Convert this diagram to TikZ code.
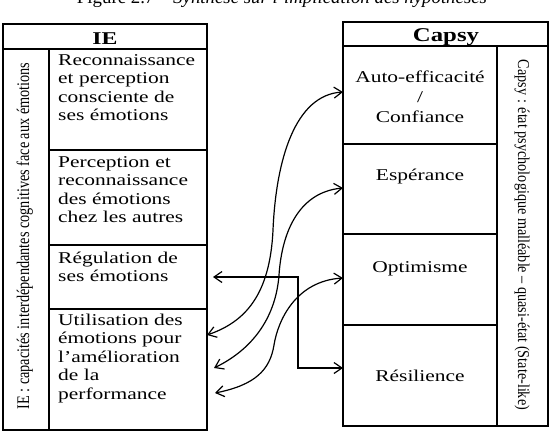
\documentclass[tikz,border=0pt]{standalone}
\usepackage{fontspec}
\usepackage{graphicx}
\setmainfont{Liberation Serif}
\usetikzlibrary{arrows.meta}
\newcommand\wl[1]{\scalebox{1.3}[1]{\begin{tabular}[t]{@{}l@{}}#1\end{tabular}}}
\newcommand\wc[1]{\scalebox{1.3}[1]{\begin{tabular}[t]{@{}c@{}}#1\end{tabular}}}
\tikzset{
  boxline/.style={line width=2pt, line join=miter},
  conn/.style={line width=1.2pt, {Straight Barb[length=8pt,width=11pt]}-{Straight Barb[length=8pt,width=11pt]}},
  celltext/.style={inner sep=0pt, anchor=base west,
    font=\fontsize{16.5}{18.5}\selectfont},
  capsytext/.style={inner sep=0pt, anchor=base,
    font=\fontsize{16.5}{20}\selectfont},
  headtext/.style={inner sep=0pt, anchor=base},
  verttext/.style={inner sep=0pt, anchor=base, font=\fontsize{14.5}{16}\selectfont},
}
\begin{document}
\begin{tikzpicture}[x=1pt,y=-1pt]
\useasboundingbox (0,0) rectangle (553,437);
\clip (0,0) rectangle (553,437);
\fill[white] (0,0) rectangle (553,437);
% caption (cut at top)
\node[inner sep=0pt, anchor=base, font=\fontsize{15.5}{17}\selectfont] (cap) at (282,3)
  {\resizebox{410pt}{!}{\textsc{Figure 2.7} -- \textit{Synthèse sur l’implication des hypothèses}}};
% ---------- IE table ----------
\draw[boxline] (3,24) rectangle (207,430);
\draw[boxline] (3,49) -- (207,49);
\draw[boxline] (49,49) -- (49,430);
\draw[boxline] (49,150) -- (207,150);
\draw[boxline] (49,245) -- (207,245);
\draw[boxline] (49,309) -- (207,309);
\node[headtext, font=\bfseries\fontsize{18}{20}\selectfont] (ieh) at (105,44) {\scalebox{1.32}[1]{IE}};
\node[verttext, rotate=90] (iev) at (29,236)
  {\resizebox{347pt}{12.5pt}{IE : capacités interdépendantes cognitives face aux émotions}};
\node[celltext] (ie1) at (58,65) {\wl{Reconnaissance\\et perception\\consciente de\\ses émotions}};
\node[celltext] (ie2) at (58,167) {\wl{Perception et\\reconnaissance\\des émotions\\chez les autres}};
\node[celltext] (ie3) at (58,263) {\wl{Régulation de\\ses émotions}};
\node[celltext] (ie4) at (58,325) {\wl{Utilisation des\\émotions pour\\l’amélioration\\de la\\performance}};
% ---------- Capsy table ----------
\draw[boxline] (343,22) rectangle (548,426);
\draw[boxline] (343,46) -- (548,46);
\draw[boxline] (497,46) -- (497,426);
\draw[boxline] (343,144) -- (497,144);
\draw[boxline] (343,234) -- (497,234);
\draw[boxline] (343,325) -- (497,325);
\node[headtext, font=\bfseries\fontsize{19.5}{21}\selectfont] (caph) at (446,41) {\scalebox{1.27}[1]{Capsy}};
\node[verttext, rotate=-90] (capv) at (518,235)
  {\resizebox{350pt}{11.5pt}{Capsy : état psychologique malléable – quasi-état (State-like)}};
\node[capsytext] (c1) at (420,82) {\wc{Auto-efficacité\\/\\Confiance}};
\node[capsytext] (c2) at (420,180) {\wc{Espérance}};
\node[capsytext] (c3) at (420,272) {\wc{Optimisme}};
\node[capsytext] (c4) at (420,381) {\wc{Résilience}};
% ---------- connector end points ----------
\coordinate (a1) at (207,335);
\coordinate (b1) at (343,92);
\coordinate (a2) at (214,368);
\coordinate (b2) at (343,188);
\coordinate (a3) at (215,393);
\coordinate (b3) at (343,278);
\coordinate (a4) at (213,277);
\coordinate (b4) at (343,368);
\coordinate (m1) at (273,230);
\coordinate (m2) at (279,275);
\coordinate (m3) at (274,345);
% ---------- connectors ----------
\draw[conn] (a1) .. controls (245,322) and (270,295) .. (m1)
               .. controls (276,160) and (295,95) .. (b1);
\draw[conn] (a2) .. controls (255,348) and (276,315) .. (m2)
               .. controls (282,230) and (300,192) .. (b2);
\draw[conn] (a3) .. controls (255,385) and (270,370) .. (m3)
               .. controls (278,320) and (296,281) .. (b3);
\draw[conn] (a4) -- (298,277) -- (298,368) -- (b4);
\end{tikzpicture}
\end{document}
